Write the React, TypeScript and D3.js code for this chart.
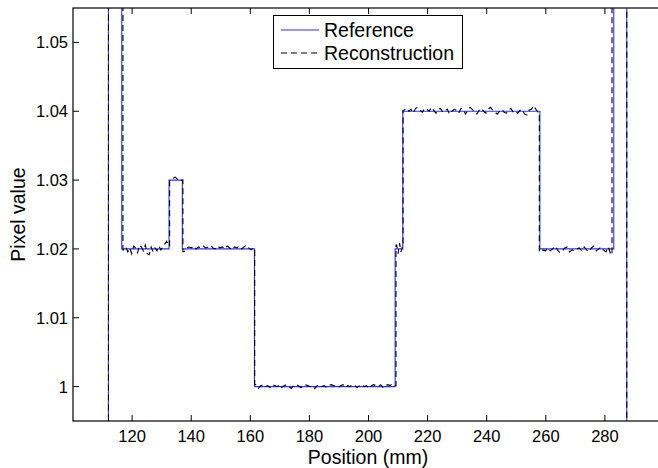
import React from "react";
import * as d3 from "d3";

const W = 658;
const H = 468;
const margin = { left: 73, top: 8, right: 664, bottom: 421 };

const xDomain = [100, 300];
const yDomain = [0.995, 1.055];
const xTicks = [120, 140, 160, 180, 200, 220, 240, 260, 280];
const yTicks = [1, 1.01, 1.02, 1.03, 1.04, 1.05];
const yTickLabels = ["1", "1.01", "1.02", "1.03", "1.04", "1.05"];

// Reference: piecewise constant profile
const refEdges = [100, 112, 116.5, 132.5, 137, 161.4, 209, 211.6, 258, 283, 287.4, 300];
const refLevels = [0.9, 1.2, 1.02, 1.03, 1.02, 1.0, 1.02, 1.04, 1.02, 1.2, 0.9];

// Reconstruction: segment edges, levels and noise (in 1.4e-4 units)
const recEdges = [100, 112, 116.9, 132.7, 137.2, 161.5, 209.3, 211.7, 257.8, 282.4, 287.4, 300];
const recLevels = [0.9, 1.2, 1.02, 1.03, 1.02, 1.0, 1.02, 1.04, 1.02, 1.2, 0.9];
const noiseUnit = 1.4e-4;
const noiseA = [-1, 2, -3, 1, -5, 3, 1, -4, 4, 2, -2, 4, -5, -6, 2, -3, 1, -2, 3, -1, 2, 5, 8, 3];
const noiseB = [0, 2, 3, 1, -1, 0];
const noiseC = [-3, 1, 2, 1, 3, 0, 2, 1, 3, 1, 2, 4, 1, 0, 3, 1, 2, 0, 3, 1, -1, 2, 1, 3, 0, 2, 4, 1, -1, 1];
const noiseD = [2, -2, 1, 2, 0, 1, -1, 2, 1, 0, 2, -1, 1, 2, 0, -2, 1, 2, 1, -1, 0, 2, 1, 0, 1, -2, 1, 2, 0, 1, -1, 1, 2, 1, 0, -1, 1, 2, -1, 1, 0, 2, 1, -1, 1, 2, 0, 1, -2, 1, 2, 1, 0, 2, -1, 1, 2, 1, 3, 1];
const noiseE = [4, -5, 6, -3, 2];
const noiseF = [1, 3, 0, 2, -2, 3, 4, 1, -1, 3, 2, 0, 4, 1, -2, 2, 3, -1, 1, 2, -3, 0, 2, 1, -2, 3, 2, -3, 1, 4, 2, -2, -3, 1, 3, 0, -2, 2, 4, 1, -1, -3, 0, 2, -1, -2, 1, 3, -1, 0, -2, 1, 2, -3, -4, 1, 2, 6, 2, -1];
const noiseG = [-3, -1, -2, 1, -2, 0, 3, -1, -4, -2, 1, 2, -3, -1, -2, 0, 1, -2, 2, -1, -3, 1, 3, -2, 0, 2, -1, -3, 2, -6];
const recNoise: number[][] = [[], [], noiseA, noiseB, noiseC, noiseD, noiseE, noiseF, noiseG, [], []];

function refPoints(): [number, number][] {
  const pts: [number, number][] = [];
  refLevels.forEach((L, i) => {
    pts.push([refEdges[i], L]);
    pts.push([refEdges[i + 1], L]);
  });
  return pts;
}

function recPoints(): [number, number][] {
  const pts: [number, number][] = [];
  recLevels.forEach((L, i) => {
    const e0 = recEdges[i];
    const e1 = recEdges[i + 1];
    const n = recNoise[i];
    if (n.length === 0) {
      pts.push([e0, L]);
      pts.push([e1, L]);
    } else {
      pts.push([e0, L + n[0] * noiseUnit]);
      n.forEach((v, k) => {
        pts.push([e0 + ((k + 0.5) * (e1 - e0)) / n.length, L + v * noiseUnit]);
      });
      pts.push([e1, L + n[n.length - 1] * noiseUnit]);
    }
  });
  return pts;
}

export default function App() {
  const x = d3.scaleLinear().domain(xDomain).range([margin.left, margin.right]);
  const y = d3.scaleLinear().domain(yDomain).range([margin.bottom, margin.top]);
  const line = d3
    .line<[number, number]>()
    .x((d) => x(d[0]))
    .y((d) => y(d[1]));
  const font = "'Liberation Sans', Arial, Helvetica, sans-serif";
  const tl = 6;
  const pw = margin.right - margin.left;
  const ph = margin.bottom - margin.top;

  return (
    <div style={{ position: "absolute", left: 0, top: 0, width: W, height: H, overflow: "hidden", background: "#fff" }}>
      <svg width={W} height={H} style={{ display: "block", overflow: "hidden" }} fontFamily={font}>
        <defs>
          <clipPath id="plotclip">
            <rect x={margin.left} y={margin.top} width={pw} height={ph} />
          </clipPath>
        </defs>
        <rect x={0} y={0} width={W} height={H} fill="#fff" />
        <g clipPath="url(#plotclip)">
          <path d={line(refPoints()) || ""} fill="none" stroke="#3030ff" strokeWidth={1.1} />
          <path d={line(recPoints()) || ""} fill="none" stroke="#000" strokeWidth={1.1} strokeDasharray="6,4" />
        </g>
        {/* box */}
        <rect x={margin.left} y={margin.top} width={pw} height={ph} fill="none" stroke="#000" strokeWidth={1.2} />
        {/* x ticks */}
        {xTicks.map((t) => (
          <g key={"x" + t}>
            <line x1={x(t)} x2={x(t)} y1={margin.bottom} y2={margin.bottom - tl} stroke="#000" strokeWidth={1} />
            <line x1={x(t)} x2={x(t)} y1={margin.top} y2={margin.top + tl} stroke="#000" strokeWidth={1} />
            <text x={x(t)} y={442} fontSize={16.5} textAnchor="middle" fill="#000">
              {t}
            </text>
          </g>
        ))}
        {/* y ticks */}
        {yTicks.map((t, i) => (
          <g key={"y" + t}>
            <line x1={margin.left} x2={margin.left + tl} y1={y(t)} y2={y(t)} stroke="#000" strokeWidth={1} />
            <line x1={margin.right} x2={margin.right - tl} y1={y(t)} y2={y(t)} stroke="#000" strokeWidth={1} />
            <text x={68} y={y(t) + 6} fontSize={16.5} textAnchor="end" fill="#000">
              {yTickLabels[i]}
            </text>
          </g>
        ))}
        {/* axis labels */}
        <text x={368} y={464} fontSize={19.5} textAnchor="middle" fill="#000">
          Position (mm)
        </text>
        <text transform={`translate(25, ${(margin.top + margin.bottom) / 2}) rotate(-90)`} fontSize={19.5} textAnchor="middle" fill="#000">
          Pixel value
        </text>
        {/* legend */}
        <rect x={273.5} y={15.5} width={189} height={53} fill="#fff" stroke="#000" strokeWidth={1} />
        <line x1={281} x2={319} y1={30} y2={30} stroke="#3030ff" strokeWidth={1.1} />
        <text x={324} y={37} fontSize={19.5} fill="#000">
          Reference
        </text>
        <line x1={281} x2={319} y1={53} y2={53} stroke="#000" strokeWidth={1.1} strokeDasharray="6,4" />
        <text x={324} y={60} fontSize={19.5} fill="#000">
          Reconstruction
        </text>
      </svg>
    </div>
  );
}
